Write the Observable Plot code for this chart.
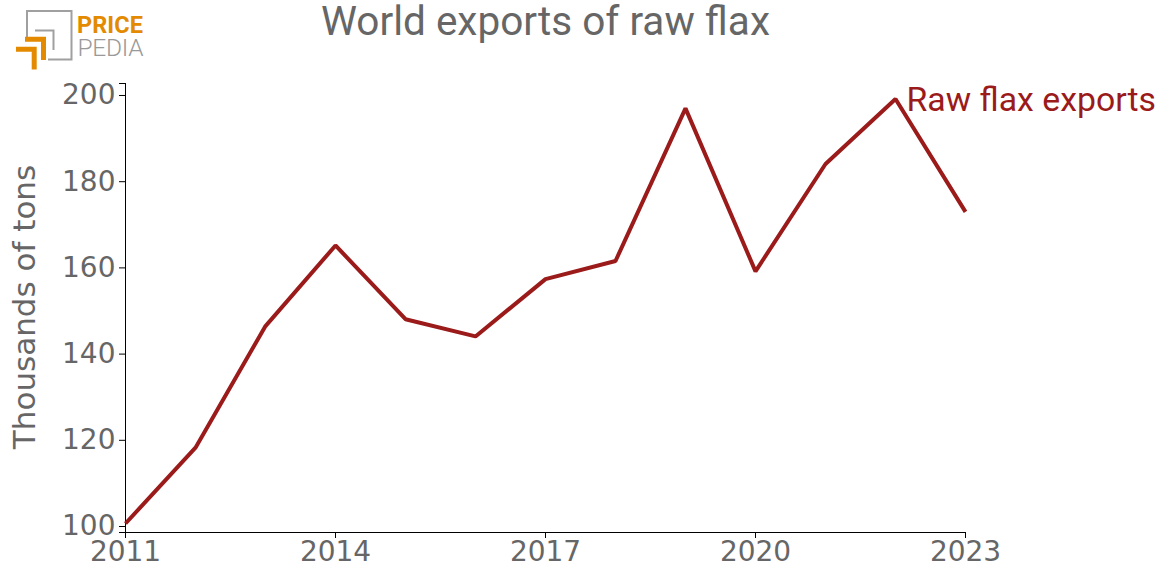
<!DOCTYPE html>
<html>
<head>
<meta charset="utf-8">
<script src="https://cdn.jsdelivr.net/npm/d3@7"></script>
<script src="https://cdn.jsdelivr.net/npm/@observablehq/plot@0.6"></script>
<style>
  html, body { margin: 0; padding: 0; background: #fff; }
  #wrap { position: relative; width: 1160px; height: 576px; overflow: hidden; }
  #header { position: relative; width: 1160px; height: 60px; }
  #title { position: absolute; left: 321px; top: 1px; font-family: Roboto, sans-serif; font-size: 40.5px; line-height: 41px; color: #666; white-space: nowrap; }
  #logo { position: absolute; left: 0; top: 0; }
  #chart svg { display: block; }
</style>
</head>
<body>
<div id="wrap">
  <div id="header">
    <svg id="logo" width="160" height="75" viewBox="0 0 160 75">
      <path d="M27,37 V11 H71.5 V59.5 H48" fill="none" stroke="#a0a0a0" stroke-width="2"/>
      <path d="M35,30.5 H53.5 V50" fill="none" stroke="#a0a0a0" stroke-width="2"/>
      <path d="M25,39.2 H43.5 V60" fill="none" stroke="#e38a00" stroke-width="5" stroke-linejoin="miter"/>
      <path d="M16,49.2 H34.2 V69.5" fill="none" stroke="#e38a00" stroke-width="5" stroke-linejoin="miter"/>
      <text x="77" y="32.5" font-family="Roboto, sans-serif" font-weight="700" font-size="23.5" fill="#e38a00" textLength="66">PRICE</text>
      <text x="77.5" y="55.5" font-family="Roboto, sans-serif" font-weight="300" font-size="24.5" fill="#999" textLength="66">PEDIA</text>
    </svg>
    <div id="title">World exports of raw flax</div>
  </div>
  <div id="chart"></div>
</div>
<script>
// ---- data ----
const years = [2011, 2012, 2013, 2014, 2015, 2016, 2017, 2018, 2019, 2020, 2021, 2022, 2023];
const exportsKt = [100.7, 118.3, 146.5, 165.2, 148.1, 144.1, 157.4, 161.6, 197.0, 159.2, 184.1, 199.2, 173.0];
const seriesName = "Raw flax exports";
const yTitle = "Thousands of tons";
const xTicks = [2011, 2014, 2017, 2020, 2023];
const yTicks = [100, 120, 140, 160, 180, 200];
const yDomain = [98.61, 202.78];
const xDomain = [2011, 2023];

const data = years.map((year, i) => ({year, value: exportsKt[i]}));
const lineColor = "#9b1a1a";
const labelYear = 2022;

const chart = Plot.plot({
  width: 1160,
  height: 516,
  marginTop: 23,
  marginBottom: 44,
  marginLeft: 125,
  marginRight: 195,
  style: {fontFamily: "'DejaVu Sans', sans-serif", fontSize: "28px", color: "#666", background: "#fff", overflow: "visible"},
  x: {domain: xDomain},
  y: {domain: yDomain},
  marks: [
    Plot.axisX({ticks: xTicks, tickFormat: d => String(d), tickSize: 6, tickPadding: 3, stroke: "black", fill: "#666", label: null, fontSize: 28}),
    Plot.axisY({ticks: yTicks, tickSize: 6, tickPadding: 4, stroke: "black", fill: "#666", label: null, fontSize: 28}),
    Plot.axisY({ticks: yDomain, tickSize: 6, tickFormat: () => "", stroke: "black", label: null}),
    Plot.ruleX([xDomain[0]], {stroke: "black", strokeWidth: 1}),
    Plot.ruleY([yDomain[0]], {stroke: "black", strokeWidth: 1}),
    Plot.line(data, {x: "year", y: "value", stroke: lineColor, strokeWidth: 4, strokeLinejoin: "miter", strokeLinecap: "butt"}),
    Plot.text(data.filter(d => d.year === labelYear), {x: "year", y: "value", text: () => seriesName, textAnchor: "start", lineAnchor: "middle", dx: 11, dy: 1.5, fill: lineColor, fontSize: 33.8, fontFamily: "Roboto, sans-serif"}),
    Plot.text([yTitle], {text: d => d, frameAnchor: "left", textAnchor: "middle", rotate: -90, dx: -100, dy: -1, fill: "#666", fontSize: 31, fontFamily: "'DejaVu Sans', sans-serif", lineAnchor: "middle"})
  ]
});
document.getElementById("chart").appendChild(chart);
</script>
</body>
</html>
